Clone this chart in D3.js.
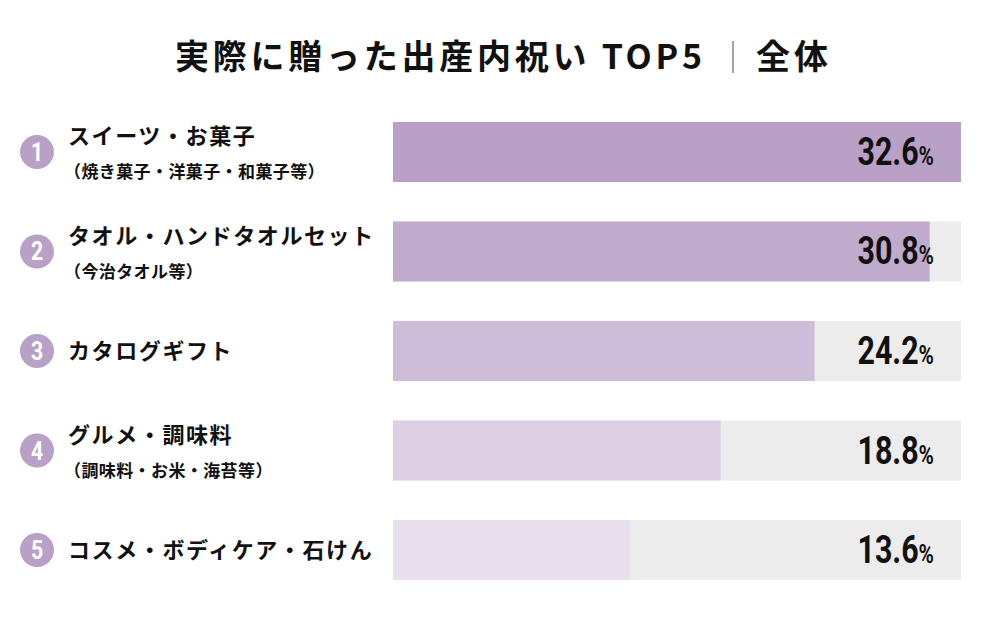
<!DOCTYPE html>
<html>
<head>
<meta charset="utf-8">
<script src="https://cdn.jsdelivr.net/npm/d3@7"></script>
<style>
  body { margin: 0; background: #fff; }
  svg { display: block; }
</style>
</head>
<body>
<div id="chart"></div>
<script>
// data
var ranks = [1, 2, 3, 4, 5];
var labels = ["スイーツ・お菓子", "タオル・ハンドタオルセット", "カタログギフト", "グルメ・調味料", "コスメ・ボディケア・石けん"];
var subLabels = ["（焼き菓子・洋菓子・和菓子等）", "（今治タオル等）", "", "（調味料・お米・海苔等）", ""];
var values = [32.6, 30.8, 24.2, 18.8, 13.6];
var barColors = ["#b9a0c6", "#c1abcd", "#cdbdd9", "#ddd0e5", "#e9e0ee"];

var width = 1000, height = 618;
var jp = "'Noto Sans CJK JP', 'Noto Sans', sans-serif";
var num = "'Roboto', 'DejaVu Sans', sans-serif";

var svg = d3.select("#chart").append("svg")
    .attr("width", width)
    .attr("height", height);

// title: main part, separator, "全体"
svg.append("text")
    .attr("x", 175)
    .attr("y", 69)
    .attr("textLength", 527)
    .attr("lengthAdjust", "spacing")
    .attr("font-family", jp)
    .attr("font-weight", 700)
    .attr("font-size", 34)
    .attr("fill", "#111")
    .text("実際に贈った出産内祝い TOP5");

svg.append("line")
    .attr("x1", 733).attr("x2", 733)
    .attr("y1", 41).attr("y2", 73)
    .attr("stroke", "#666")
    .attr("stroke-width", 1.2);

svg.append("text")
    .attr("x", 756)
    .attr("y", 69)
    .attr("textLength", 72)
    .attr("lengthAdjust", "spacing")
    .attr("font-family", jp)
    .attr("font-weight", 700)
    .attr("font-size", 34)
    .attr("fill", "#111")
    .text("全体");

var x = d3.scaleLinear()
    .domain([0, d3.max(values)])
    .range([393, 961]);

var y = d3.scaleBand()
    .domain(ranks)
    .range([122, 580])
    .paddingInner(0.397)
    .paddingOuter(0);

var rows = svg.selectAll(".row")
    .data(ranks)
    .enter().append("g")
    .attr("class", "row");

// grey track
rows.append("rect")
    .attr("x", x(0))
    .attr("y", function (d) { return y(d); })
    .attr("width", x(d3.max(values)) - x(0))
    .attr("height", y.bandwidth())
    .attr("fill", "#ececec");

// value bar
rows.append("rect")
    .attr("class", "bar")
    .attr("x", x(0))
    .attr("y", function (d) { return y(d); })
    .attr("width", function (d, i) { return x(values[i]) - x(0); })
    .attr("height", y.bandwidth())
    .attr("fill", function (d, i) { return barColors[i]; });

// value labels (condensed look via horizontal scale)
var vt = rows.append("g")
    .attr("transform", function (d) {
        return "translate(934," + (y(d) + y.bandwidth() / 2 + 13) + ") scale(0.8,1)";
    })
    .append("text")
    .attr("text-anchor", "end")
    .attr("font-family", num)
    .attr("font-weight", 700)
    .attr("fill", "#111");
vt.append("tspan")
    .attr("font-size", 38)
    .text(function (d, i) { return values[i].toFixed(1); });
vt.append("tspan")
    .attr("font-size", 26)
    .text("%");

// rank circles
rows.append("circle")
    .attr("cx", 37)
    .attr("cy", function (d) { return y(d) + y.bandwidth() / 2; })
    .attr("r", 17)
    .attr("fill", "#b9a0c6");

rows.append("g")
    .attr("transform", function (d) {
        return "translate(37," + (y(d) + y.bandwidth() / 2 + 9) + ") scale(0.85,1)";
    })
    .append("text")
    .attr("text-anchor", "middle")
    .attr("font-family", num)
    .attr("font-weight", 700)
    .attr("font-size", 25)
    .attr("fill", "#fff")
    .text(function (d) { return d; });

// category labels
rows.append("text")
    .attr("x", 68)
    .attr("y", function (d, i) {
        return subLabels[i] ? y(d) + 22 : y(d) + y.bandwidth() / 2 + 8;
    })
    .attr("font-family", jp)
    .attr("font-weight", 700)
    .attr("font-size", 22)
    .attr("letter-spacing", 1.6)
    .attr("fill", "#111")
    .text(function (d, i) { return labels[i]; });

rows.filter(function (d, i) { return subLabels[i]; })
    .append("text")
    .attr("x", 64)
    .attr("y", function (d) { return y(d) + 56; })
    .attr("font-family", jp)
    .attr("font-weight", 700)
    .attr("font-size", 17)
    .attr("letter-spacing", 0.4)
    .attr("fill", "#111")
    .text(function (d) { return subLabels[d - 1]; });
</script>
</body>
</html>
